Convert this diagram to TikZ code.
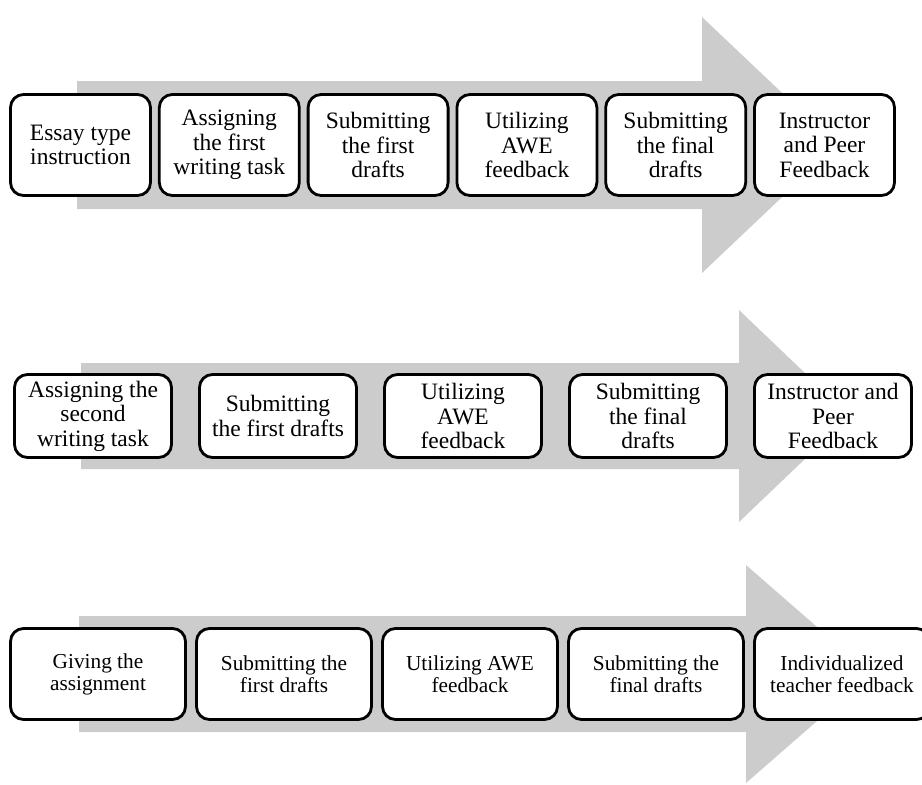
\documentclass[tikz,border=0pt]{standalone}
\usepackage{fontspec}
\setmainfont{Liberation Serif}
\usetikzlibrary{positioning}
\tikzset{%
  every stage/.style={
    rectangle,
    draw,
    fill=white,
    line width=2.8pt,
    rounded corners=13pt,
    align=center,
    inner sep=1pt
  },
  stage first/.style={
    minimum width=140pt,
    minimum height=101pt,
    font=\fontsize{23.5}{24.5}\selectfont
  },
  stage second/.style={
    minimum width=157pt,
    minimum height=83pt,
    font=\fontsize{23.5}{24.5}\selectfont
  },
  stage third/.style={
    minimum width=175pt,
    minimum height=91pt,
    font=\fontsize{21.3}{22}\selectfont
  },
  stage arrow/.style={
    fill=gray!40,
    draw=none
  },
}

\begin{document}
\begin{tikzpicture}[x=1pt, y=-1pt]
        \useasboundingbox (0,0) rectangle (922,785);
        % big grey arrows behind the rows
        \fill [stage arrow] (77,81) -- (702,81) -- (702,17) -- (837,145) -- (702,273) -- (702,209) -- (77,209) -- cycle;
        \fill [stage arrow] (81,363) -- (739,363) -- (739,310) -- (850,416) -- (739,522) -- (739,469) -- (81,469) -- cycle;
        \fill [stage arrow] (79,616) -- (746,616) -- (746,565) -- (871,674) -- (746,783) -- (746,732) -- (79,732) -- cycle;

        \foreach \l [count=\i] in {{Essay type\\instruction}, {Assigning\\the first\\writing task}, {Submitting\\the first\\drafts}, {Utilizing\\AWE\\feedback}, {Submitting\\the final\\drafts}, {Instructor\\and Peer\\Feedback}}
          \node [every stage, stage first] (first-\i) at ({\i*148.8-68.3},145) {\l};
        \foreach \l [count=\i] in {{Assigning the\\second\\writing task}, {Submitting\\the first drafts}, {Utilizing\\AWE\\feedback}, {Submitting\\the final\\drafts}, {Instructor and\\Peer\\Feedback}}
          \node [every stage, stage second] (second-\i) at ({\i*185-92},416) {\l};
        \foreach \l [count=\i] in {{Giving the\\assignment}, {Submitting the\\first drafts}, {Utilizing AWE\\feedback}, {Submitting the\\final drafts}, {Individualized\\teacher feedback}}
          \node [every stage, stage third] (third-\i) at ({\i*186-88},674) {\l};
\end{tikzpicture}
\end{document}
